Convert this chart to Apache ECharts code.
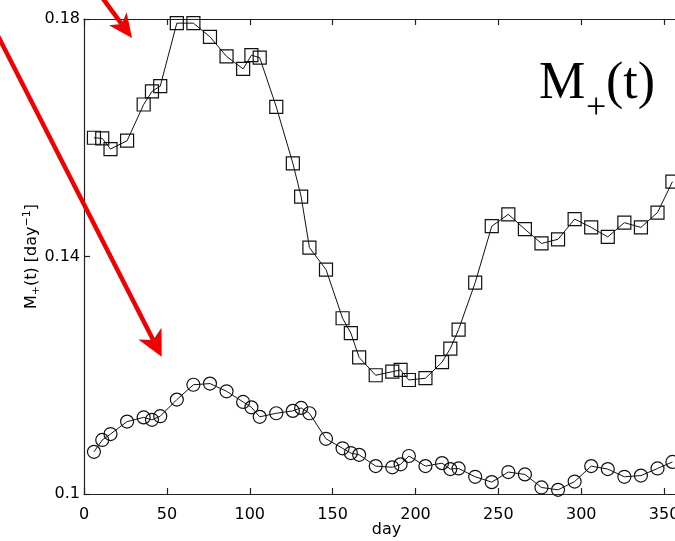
<!DOCTYPE html>
<html>
<head>
<meta charset="utf-8">
<script src="https://cdn.jsdelivr.net/npm/echarts@6/dist/echarts.min.js"></script>
<style>
html,body{margin:0;padding:0;background:#fff;}
#chart{width:675px;height:541px;}
</style>
</head>
<body>
<div id="chart"></div>
<script>
// ---- data ----
var days = [6,11,16,26,36,41,46,56,66,76,86,96,101,106,116,126,131,136,146,156,161,166,176,186,191,196,206,216,221,226,236,246,256,266,276,286,296,306,316,326,336,346,355];
var squaresM = [0.1600,0.1599,0.1581,0.1595,0.1656,0.1678,0.1687,0.1793,0.1793,0.1770,0.1737,0.1716,0.1739,0.1735,0.1652,0.1557,0.1501,0.1415,0.1378,0.1296,0.1271,0.1230,0.1200,0.1206,0.1209,0.1192,0.1195,0.1222,0.1245,0.1277,0.1356,0.1451,0.1471,0.1446,0.1422,0.1429,0.1463,0.1449,0.1433,0.1457,0.1449,0.1474,0.1526];
var circlesM = [0.1071,0.1091,0.1101,0.1122,0.1129,0.1125,0.1131,0.1159,0.1184,0.1186,0.1173,0.1155,0.1146,0.1130,0.1136,0.1140,0.1145,0.1136,0.1093,0.1077,0.1069,0.1066,0.1047,0.1045,0.1050,0.1064,0.1047,0.1052,0.1042,0.1043,0.1029,0.1020,0.1037,0.1033,0.1011,0.1007,0.1021,0.1047,0.1042,0.1029,0.1031,0.1043,0.1054];
var xTicks = {min: 0, max: 365, interval: 50};
var yTicks = {min: 0.1, max: 0.18, interval: 0.04};

function pairs(xs, ys){ return xs.map(function(x,i){ return [x, ys[i]]; }); }

// arrow decoration helper
function arrow(sx, sy, tx, ty, len, half, w){
  var dx = tx - sx, dy = ty - sy, L = Math.sqrt(dx*dx+dy*dy);
  var ux = dx/L, uy = dy/L, nx = -uy, ny = ux;
  var bx = tx - len*ux, by = ty - len*uy;
  var kx = tx - 0.72*len*ux, ky = ty - 0.72*len*uy;
  return [
    {type:'polyline', shape:{points:[[sx,sy],[kx,ky]]}, style:{stroke:'#f00000', lineWidth:w, fill:null}, z:100},
    {type:'polygon', shape:{points:[[tx,ty],[bx+half*nx,by+half*ny],[kx,ky],[bx-half*nx,by-half*ny]]}, style:{fill:'#f00000'}, z:100}
  ];
}

var chart = echarts.init(document.getElementById('chart'), null, {renderer:'canvas'});
var font = 'DejaVu Sans';
var axisLineStyle = {color:'#222', width:1.2};
var option = {
  animation: false,
  backgroundColor: '#fff',
  grid: {left: 84, top: 19, right: -14, bottom: 47, containLabel: false, outerBoundsMode: 'none'},
  xAxis: [{
    type: 'value', position: 'bottom', min: xTicks.min, max: xTicks.max, interval: xTicks.interval,
    axisLine: {show: true, lineStyle: axisLineStyle},
    axisTick: {show: true, inside: true, length: 6, lineStyle: axisLineStyle},
    axisLabel: {show: true, fontFamily: font, fontSize: 16, color: '#000', margin: 13, showMaxLabel: false},
    splitLine: {show: false},
    name: 'day', nameLocation: 'middle', nameGap: 28, nameMoveOverlap: false,
    nameTextStyle: {fontFamily: font, fontSize: 16, color: '#000'}
  },{
    type: 'value', position: 'top', min: xTicks.min, max: xTicks.max, interval: xTicks.interval,
    axisLine: {show: true, lineStyle: axisLineStyle},
    axisTick: {show: true, inside: true, length: 6, lineStyle: axisLineStyle},
    axisLabel: {show: false}, splitLine: {show: false}
  }],
  yAxis: [{
    type: 'value', position: 'left', min: yTicks.min, max: yTicks.max, interval: yTicks.interval,
    axisLine: {show: true, lineStyle: axisLineStyle},
    axisTick: {show: true, inside: true, length: 6, lineStyle: axisLineStyle},
    axisLabel: {show: true, fontFamily: font, fontSize: 16, color: '#000', margin: 4, padding: [8,0,0,0],
      formatter: function(v){ return String(+v.toFixed(4)); }},
    splitLine: {show: false},
    name: '{a|M}{sub|+}{a|(t) [day}{sup|−1}{a|]}', nameLocation: 'middle', nameGap: 42, nameRotate: 90,
    nameMoveOverlap: false,
    nameTextStyle: {
      fontFamily: font, fontSize: 16, color: '#000',
      rich: {
        a: {fontFamily: font, fontSize: 16, color: '#000', lineHeight: 20, verticalAlign: 'middle'},
        sub: {fontFamily: font, fontSize: 11, color: '#000', lineHeight: 11, verticalAlign: 'bottom'},
        sup: {fontFamily: font, fontSize: 11, color: '#000', lineHeight: 11, verticalAlign: 'top'}
      }
    }
  }],
  series: [{
    type: 'line', xAxisIndex: 0, yAxisIndex: 0,
    data: pairs(days, squaresM),
    symbol: 'rect', symbolSize: 13, showAllSymbol: true,
    lineStyle: {color: '#111', width: 1},
    itemStyle: {color: 'rgba(0,0,0,0)', borderColor: '#111', borderWidth: 1.2}
  },{
    type: 'line', xAxisIndex: 0, yAxisIndex: 0,
    data: pairs(days, circlesM),
    symbol: 'circle', symbolSize: 13, showAllSymbol: true,
    lineStyle: {color: '#111', width: 1},
    itemStyle: {color: 'rgba(0,0,0,0)', borderColor: '#111', borderWidth: 1.2}
  }],
  graphic: [].concat(
    arrow(101, -4, 132, 38, 24, 11, 4.5),
    arrow(-3, 34, 161.7, 356.7, 26, 13, 4.5),
    [
      {type:'text', left: 539, top: 58, style:{text:'M', font:'52px "Liberation Serif"', fill:'#000'}, z:50},
      {type:'text', left: 586, top: 91, style:{text:'+', font:'36px "Liberation Serif"', fill:'#000'}, z:50},
      {type:'text', left: 606, top: 58, style:{text:'(t)', font:'52px "Liberation Serif"', fill:'#000'}, z:50}
    ]
  )
};
chart.setOption(option);
</script>
</body>
</html>
